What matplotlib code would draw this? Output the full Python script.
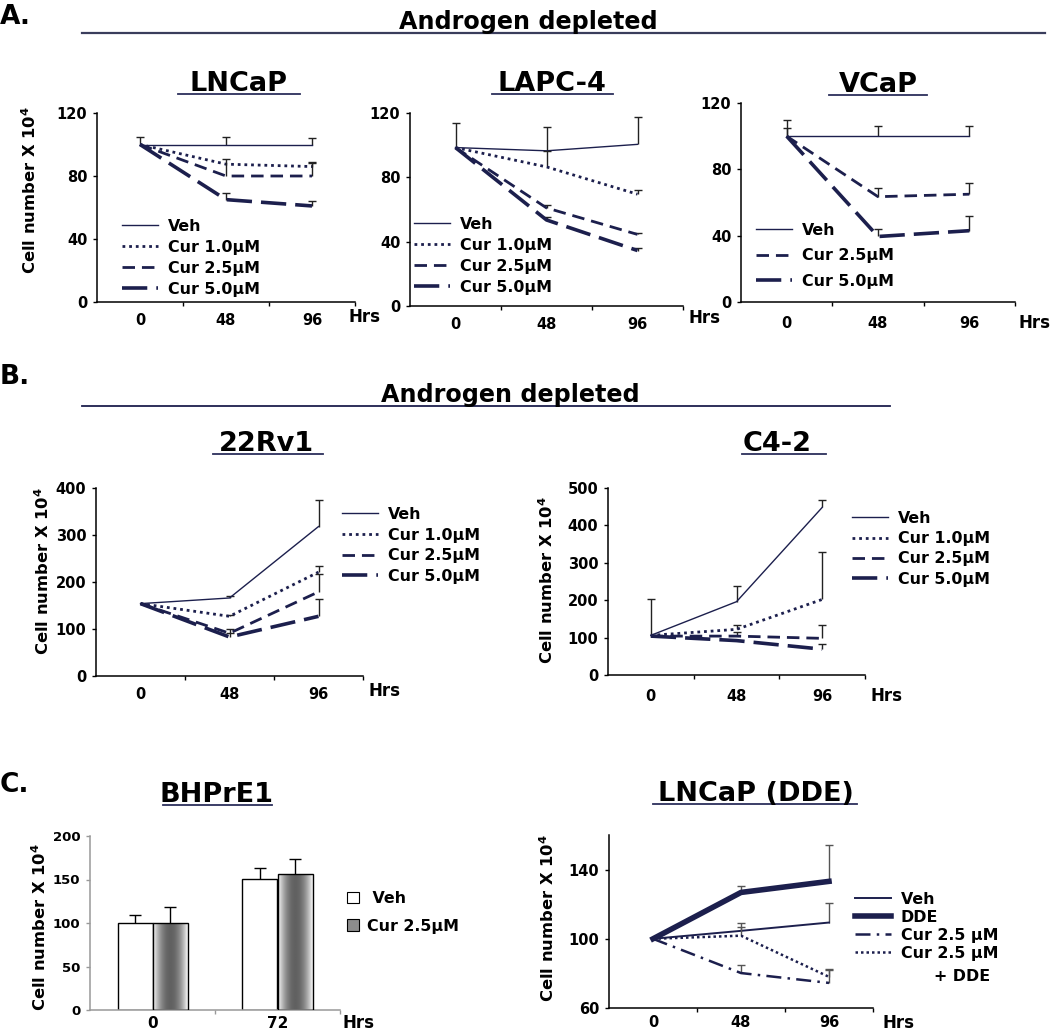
import numpy as np
import matplotlib
matplotlib.use("Agg")
import matplotlib.pyplot as plt
from matplotlib.lines import Line2D
from matplotlib.patches import Patch

# ---- data ----
HOURS = ["0", "48", "96"]

# A. LNCaP
LNCAP_VEH = [100, 100, 100]
LNCAP_VEH_ERR = [5, 5, 4]
LNCAP_CUR10 = [100, 87.5, 86]
LNCAP_CUR10_ERR = [0, 0, 2]
LNCAP_CUR25 = [100, 80, 80]
LNCAP_CUR25_ERR = [0, 11, 9]
LNCAP_CUR50 = [100, 65, 61]
LNCAP_CUR50_ERR = [0, 4, 3]

# A. LAPC-4
LAPC_VEH = [98.5, 96.5, 100.5]
LAPC_VEH_ERR = [15, 15, 17]
LAPC_CUR10 = [98.5, 86.5, 69.5]
LAPC_CUR10_ERR = [0, 10, 2.5]
LAPC_CUR25 = [98.5, 61, 44.5]
LAPC_CUR25_ERR = [0, 1.5, 1]
LAPC_CUR50 = [98.5, 53.5, 34.5]
LAPC_CUR50_ERR = [0, 2, 1.5]

# A. VCaP
VCAP_VEH = [100, 100, 100]
VCAP_VEH_ERR = [10, 6, 6]
VCAP_CUR25 = [100, 63.5, 65]
VCAP_CUR25_ERR = [5, 5, 6.5]
VCAP_CUR50 = [100, 39.5, 43]
VCAP_CUR50_ERR = [0, 4.5, 9]

# B. 22Rv1
RV1_VEH = [154, 166, 318]
RV1_VEH_ERR = [0, 5, 56]
RV1_CUR10 = [154, 127, 221]
RV1_CUR10_ERR = [0, 3, 14]
RV1_CUR25 = [154, 91, 179]
RV1_CUR25_ERR = [0, 8, 37]
RV1_CUR50 = [154, 83, 127]
RV1_CUR50_ERR = [0, 9, 36]

# B. C4-2
C42_VEH = [106, 196, 448]
C42_VEH_ERR = [96, 42, 19]
C42_CUR10 = [106, 122, 202]
C42_CUR10_ERR = [0, 11, 127]
C42_CUR25 = [104, 104, 98]
C42_CUR25_ERR = [0, 12, 37]
C42_CUR50 = [104, 92, 69]
C42_CUR50_ERR = [0, 0, 13]

# C. BHPrE1 (bars)
BH_HOURS = ["0", "72"]
BH_VEH = [100, 151]
BH_VEH_ERR = [9, 12]
BH_CUR = [100, 156]
BH_CUR_ERR = [18, 17]

# C. LNCaP (DDE)
DDE_VEH = [100, 104.6, 109.4]
DDE_VEH_ERR = [0, 4.5, 11.5]
DDE_DDE = [100, 126.8, 133.2]
DDE_DDE_ERR = [0, 4, 21]
DDE_CUR = [100, 80.2, 74.5]
DDE_CUR_ERR = [0, 4.5, 7.5]
DDE_CUR_DDE = [100, 101.8, 78]
DDE_CUR_DDE_ERR = [0, 4.8, 4.5]

# ---- styling ----
plt.rcParams["font.family"] = ["DejaVu Sans"]
plt.rcParams["font.weight"] = "bold"

W, H = 1050, 1030
NAVY = "#1c1f4d"
UNDERLINE = "#2c2f5c"
TICK_FS = 10.5
LEG_FS = 11.4
YLAB_FS = 11.8
TITLE_FS = 19.5
HEAD_FS = 17.2

STYLES = {
    "Veh": dict(ls="-", lw=1.0),
    "Cur 1.0µM": dict(ls=(0, (1, 1.4)), lw=2.0),
    "Cur 2.5µM": dict(ls=(0, (4.5, 2.5)), lw=2.0),
    "Cur 5.0µM": dict(ls=(0, (7, 2.5)), lw=2.6),
    "Veh ": dict(ls="-", lw=1.4),
    "DDE": dict(ls="-", lw=4.0),
    "Cur 2.5 µM": dict(ls=(0, (6, 2.5, 1, 2.5)), lw=1.8),
    "Cur 2.5 µM ": dict(ls=(0, (1, 1.2)), lw=1.8),
}

fig = plt.figure(figsize=(W / 100, H / 100), dpi=100)


def fx(x):
    return x / W


def fy(y):
    return 1 - y / H


def box(x0, y0, x1, y1):
    return [fx(x0), fy(y1), (x1 - x0) / W, (y1 - y0) / H]


def ftext(x, y, s, **kw):
    kw.setdefault("fontweight", "bold")
    fig.text(fx(x), fy(y), s, **kw)


def hline(x0, x1, y, color=UNDERLINE, lw=1.3):
    fig.add_artist(Line2D([fx(x0), fx(x1)], [fy(y), fy(y)], color=color, lw=lw))


def title(s, cx, base, ux0, ux1, uy):
    ftext(cx, base, s, ha="center", va="baseline", fontsize=TITLE_FS)
    hline(ux0, ux1, uy)


def ylabel(cx, cy):
    ftext(cx, cy, r"Cell number X 10$^\mathbf{4}$", rotation=90,
          ha="center", va="center", fontsize=YLAB_FS)


def style_axes(ax, labels, ylim, yticks, axcolor="black", xpad=8):
    n = len(labels)
    ax.set_xlim(-0.5, n - 0.5)
    ax.set_ylim(*ylim)
    ax.set_yticks(yticks)
    ax.set_xticks(np.arange(1, n + 1) - 0.5)
    ax.set_xticklabels([])
    ax.set_xticks(np.arange(n), minor=True)
    ax.set_xticklabels(labels, minor=True)
    ax.tick_params(axis="x", which="minor", length=0, pad=xpad, labelsize=TICK_FS)
    ax.tick_params(axis="x", which="major", length=3, width=1, color=axcolor)
    ax.tick_params(axis="y", length=3, width=1, pad=4, labelsize=TICK_FS, color=axcolor)
    ax.yaxis.set_minor_locator(matplotlib.ticker.NullLocator())
    for s in ("top", "right"):
        ax.spines[s].set_visible(False)
    for s in ("left", "bottom"):
        ax.spines[s].set_linewidth(1.1)
        ax.spines[s].set_color(axcolor)
    ax.patch.set_alpha(0)


def line_panel(rect, ylim, yticks, series, err_color="#222222", xpad=8):
    ax = fig.add_axes(box(*rect))
    x = np.arange(len(HOURS))
    for label, vals, errs in series:
        vals = np.asarray(vals, float)
        errs = np.asarray(errs, float)
        m = errs > 0
        ax.vlines(x[m], vals[m], vals[m] + errs[m], color=err_color, lw=1.0)
        ax.plot(x[m], vals[m] + errs[m], ls="none", marker="_", ms=6,
                mew=1.0, color=err_color)
        ax.plot(x, vals, color=NAVY, label=label, **STYLES[label])
    style_axes(ax, HOURS, ylim, yticks, xpad=xpad)
    return ax


def add_legend(ax, hx, top, spacing=0.37, **kw):
    ax.legend(loc="upper left", bbox_to_anchor=(fx(hx), fy(top)),
              bbox_transform=fig.transFigure, frameon=False, fontsize=LEG_FS,
              handlelength=2.3, handletextpad=0.6, labelspacing=spacing,
              borderpad=0, borderaxespad=0, **kw)


# ---- section headers ----
ftext(0, 24, "A.", fontsize=19, va="baseline")
ftext(528, 29, "Androgen depleted", ha="center", va="baseline", fontsize=HEAD_FS)
hline(82, 1045, 33, color="#3a3d5c", lw=1.6)

ftext(0, 384, "B.", fontsize=19, va="baseline")
ftext(510, 402, "Androgen depleted", ha="center", va="baseline", fontsize=HEAD_FS)
hline(82, 890, 406, color=NAVY, lw=1.3)

ftext(0, 792, "C.", fontsize=19, va="baseline")

# ---- A: LNCaP ----
title("LNCaP", 239, 91, 178, 300, 94)
ylabel(30, 190)
ax = line_panel((97, 113, 355, 302), (0, 120), [0, 40, 80, 120], [
    ("Veh", LNCAP_VEH, LNCAP_VEH_ERR),
    ("Cur 1.0µM", LNCAP_CUR10, LNCAP_CUR10_ERR),
    ("Cur 2.5µM", LNCAP_CUR25, LNCAP_CUR25_ERR),
    ("Cur 5.0µM", LNCAP_CUR50, LNCAP_CUR50_ERR),
])
add_legend(ax, 122, 219)
ftext(348, 322, "Hrs", fontsize=12, va="baseline")

# ---- A: LAPC-4 ----
title("LAPC-4", 552, 91, 492, 613, 94)
ax = line_panel((410, 113, 683, 306), (0, 120), [0, 40, 80, 120], [
    ("Veh", LAPC_VEH, LAPC_VEH_ERR),
    ("Cur 1.0µM", LAPC_CUR10, LAPC_CUR10_ERR),
    ("Cur 2.5µM", LAPC_CUR25, LAPC_CUR25_ERR),
    ("Cur 5.0µM", LAPC_CUR50, LAPC_CUR50_ERR),
])
add_legend(ax, 414, 217)
ftext(688, 323, "Hrs", fontsize=12, va="baseline")

# ---- A: VCaP ----
title("VCaP", 878, 92, 829, 927, 95)
ax = line_panel((741, 103, 1015, 302), (0, 120), [0, 40, 80, 120], [
    ("Veh", VCAP_VEH, VCAP_VEH_ERR),
    ("Cur 2.5µM", VCAP_CUR25, VCAP_CUR25_ERR),
    ("Cur 5.0µM", VCAP_CUR50, VCAP_CUR50_ERR),
], xpad=10)
add_legend(ax, 756, 223, spacing=0.66)
ftext(1019, 328, "Hrs", fontsize=12, va="baseline")

# ---- B: 22Rv1 ----
title("22Rv1", 266, 451, 213, 323, 454)
ylabel(43, 571)
ax = line_panel((96, 488, 363, 676), (0, 400), [0, 100, 200, 300, 400], [
    ("Veh", RV1_VEH, RV1_VEH_ERR),
    ("Cur 1.0µM", RV1_CUR10, RV1_CUR10_ERR),
    ("Cur 2.5µM", RV1_CUR25, RV1_CUR25_ERR),
    ("Cur 5.0µM", RV1_CUR50, RV1_CUR50_ERR),
])
add_legend(ax, 342, 507, spacing=0.35)
ftext(368, 696, "Hrs", fontsize=12, va="baseline")

# ---- B: C4-2 ----
title("C4-2", 777, 451, 742, 826, 454)
ylabel(547, 580)
ax = line_panel((608, 488, 865, 675), (0, 500), [0, 100, 200, 300, 400, 500], [
    ("Veh", C42_VEH, C42_VEH_ERR),
    ("Cur 1.0µM", C42_CUR10, C42_CUR10_ERR),
    ("Cur 2.5µM", C42_CUR25, C42_CUR25_ERR),
    ("Cur 5.0µM", C42_CUR50, C42_CUR50_ERR),
], xpad=10)
add_legend(ax, 852, 511, spacing=0.33)
ftext(870, 701, "Hrs", fontsize=12, va="baseline")

# ---- C: BHPrE1 bars ----
title("BHPrE1", 217, 802, 163, 272, 805)
ylabel(40, 927)
ax = fig.add_axes(box(90, 836, 340, 1010))
xb = np.arange(len(BH_HOURS))
bw = 0.28
ax.bar(xb - bw / 2, BH_VEH, bw, color="white", edgecolor="black", lw=1.0,
       yerr=[np.zeros(len(BH_VEH)), BH_VEH_ERR], capsize=0, zorder=2,
       error_kw=dict(lw=1.0, ecolor="black"))
ax.plot(xb - bw / 2, np.add(BH_VEH, BH_VEH_ERR), ls="none", marker="_",
        ms=9, mew=1.0, color="black")
cur_bars = ax.bar(xb + bw / 2, BH_CUR, bw, color="none", edgecolor="black",
                  lw=1.0, yerr=[np.zeros(len(BH_CUR)), BH_CUR_ERR], capsize=0,
                  zorder=3, error_kw=dict(lw=1.0, ecolor="black"))
ax.plot(xb + bw / 2, np.add(BH_CUR, BH_CUR_ERR), ls="none", marker="_",
        ms=9, mew=1.0, color="black")
# cylinder-like shading of the curcumin bars
t = np.linspace(0, 1, 64)
grad = (0.38 + 0.6 * (2 * t - 1) ** 2)[None, :]
for r in cur_bars:
    im = ax.imshow(grad, extent=(r.get_x(), r.get_x() + r.get_width(), 0, r.get_height()),
                   aspect="auto", cmap="gray", vmin=0, vmax=1, zorder=2)
    im.set_clip_path(r)
style_axes(ax, BH_HOURS, (0, 200), [0, 50, 100, 150, 200], axcolor="#999999", xpad=4)
ax.tick_params(axis="y", labelsize=9.5)
ax.tick_params(axis="x", which="minor", labelsize=11)
ax.legend(handles=[Patch(facecolor="white", edgecolor="black", lw=0.8),
                   Patch(facecolor="#8c8c8c", edgecolor="black", lw=0.8)],
          labels=[" Veh", "Cur 2.5µM"], loc="upper left",
          bbox_to_anchor=(fx(347), fy(891)), bbox_transform=fig.transFigure,
          frameon=False, fontsize=LEG_FS, handlelength=0.75, handleheight=0.75,
          handletextpad=0.5, labelspacing=0.8, borderpad=0, borderaxespad=0)
ftext(342, 1028, "Hrs", fontsize=12, va="baseline")

# ---- C: LNCaP (DDE) ----
title("LNCaP (DDE)", 756, 801, 653, 857, 804)
ylabel(548, 918)
ax = line_panel((609, 835, 873, 1008), (60, 160), [60, 100, 140], [
    ("Veh ", DDE_VEH, DDE_VEH_ERR),
    ("DDE", DDE_DDE, DDE_DDE_ERR),
    ("Cur 2.5 µM", DDE_CUR, DDE_CUR_ERR),
    ("Cur 2.5 µM ", DDE_CUR_DDE, DDE_CUR_DDE_ERR),
], err_color="#555555", xpad=5)
add_legend(ax, 855, 892, spacing=0.18)
ftext(934, 981, "+ DDE", fontsize=LEG_FS, va="baseline")
ftext(882, 1028, "Hrs", fontsize=12, va="baseline")

fig.savefig("out.png", dpi=100)
